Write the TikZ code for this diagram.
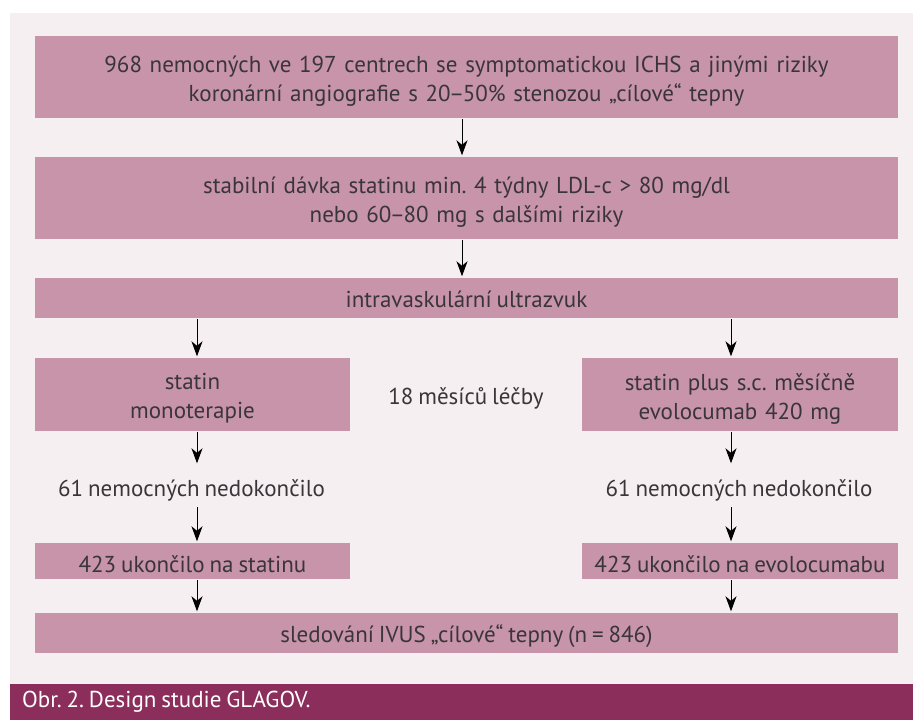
\documentclass[tikz,border=0pt]{standalone}
\usepackage{fontspec}
\setmainfont[WordSpace=0.8]{PT Sans}
\usetikzlibrary{arrows.meta}
\AtBeginDocument{\frenchspacing}
\definecolor{boxc}{HTML}{C794AA}
\definecolor{bgc}{HTML}{F5EFF2}
\definecolor{capc}{HTML}{8C2E5B}
\definecolor{txtc}{HTML}{3A3538}
\newcommand{\ndash}{\kern-1.5pt–\kern-1.5pt}
\tikzset{
  box/.style={fill=boxc, inner sep=0pt, draw=none},
  txt/.style={inner sep=0pt, anchor=base, align=center, text=txtc, font=\fontsize{23}{29}\selectfont\frenchspacing},
  arr/.style={line width=1pt, draw=black, -{Stealth[length=15pt,width=11pt,inset=4.5pt]}, shorten <=1pt, shorten >=1.5pt}
}
\begin{document}
\begin{tikzpicture}[x=1pt,y=-1pt]
\useasboundingbox (0,0) rectangle (913,720);
\fill[white] (0,0) rectangle (913,720);
\fill[bgc] (10,13) rectangle (913,684);
\fill[capc] (10,684) rectangle (913,720);
% boxes
\node[box, minimum width=863pt, minimum height=82pt] (b1) at (466.5,77) {};
\node[box, minimum width=863pt, minimum height=82pt] (b2) at (466.5,198) {};
\node[box, minimum width=863pt, minimum height=40pt] (b3) at (466.5,298) {};
\node[box, minimum width=315pt, minimum height=73pt] (L) at (192.5,394.5) {};
\node[box, minimum width=316pt, minimum height=73pt] (R) at (740,394.5) {};
\node[box, minimum width=315pt, minimum height=36pt] (eL) at (192.5,561) {};
\node[box, minimum width=316pt, minimum height=36pt] (eR) at (740,561) {};
\node[box, minimum width=863pt, minimum height=40pt] (bot) at (466.5,633) {};
% texts
\node[txt, text width=860pt] (b1t) at (466.5,72)
  {968 nemocných ve 197 centrech se symptomatickou ICHS a jinými riziky\\koronární angiografie s 20\ndash50\% stenozou „cílové“ tepny};
\node[txt, text width=860pt] (b2t) at (466.5,193)
  {stabilní dávka statinu min. 4 týdny LDL-c > 80 mg/dl\\nebo 60\ndash80 mg s dalšími riziky};
\node[txt] (b3t) at (466.5,307.5) {intravaskulární ultrazvuk};
\node[txt, text width=312pt] (Lt) at (192.5,389.5) {statin\\monoterapie};
\node[txt, text width=312pt] (Rt) at (740,390) {statin plus s.c. měsíčně\\evolocumab 420 mg};
\node[txt] (t18) at (466,404) {18 měsíců léčby};
\node[txt, text height=33pt, text depth=10.5pt] (nL) at (191.5,496.5) {61 nemocných nedokončilo};
\node[txt, text height=33pt, text depth=10.5pt] (nR) at (739,496.5) {61 nemocných nedokončilo};
\node[txt] (eLt) at (192.5,572.5) {423 ukončilo na statinu};
\node[txt] (eRt) at (740,572.5) {423 ukončilo na evolocumabu};
\node[txt] (bott) at (466.5,642) {sledování IVUS „cílové“ tepny (n = 846)};
\node[txt, anchor=base west, text=white] (cap) at (22,707) {Obr. 2. Design studie GLAGOV.};
% connectors
\coordinate (am) at (462,0);
\coordinate (al) at (197,0);
\coordinate (ar) at (731,0);
\draw[arr] (b1.south -| am) -- (b2.north -| am);
\draw[arr] (b2.south -| am) -- (b3.north -| am);
\draw[arr] (b3.south -| al) -- (L.north -| al);
\draw[arr] (b3.south -| ar) -- (R.north -| ar);
\draw[arr, shorten >=0pt] (L.south -| al) -- (nL.north -| al);
\draw[arr, shorten >=0pt] (R.south -| ar) -- (nR.north -| ar);
\draw[arr, shorten <=0pt] (nL.south -| al) -- (eL.north -| al);
\draw[arr, shorten <=0pt] (nR.south -| ar) -- (eR.north -| ar);
\draw[arr] (eL.south -| al) -- (bot.north -| al);
\draw[arr] (eR.south -| ar) -- (bot.north -| ar);
\end{tikzpicture}
\end{document}
